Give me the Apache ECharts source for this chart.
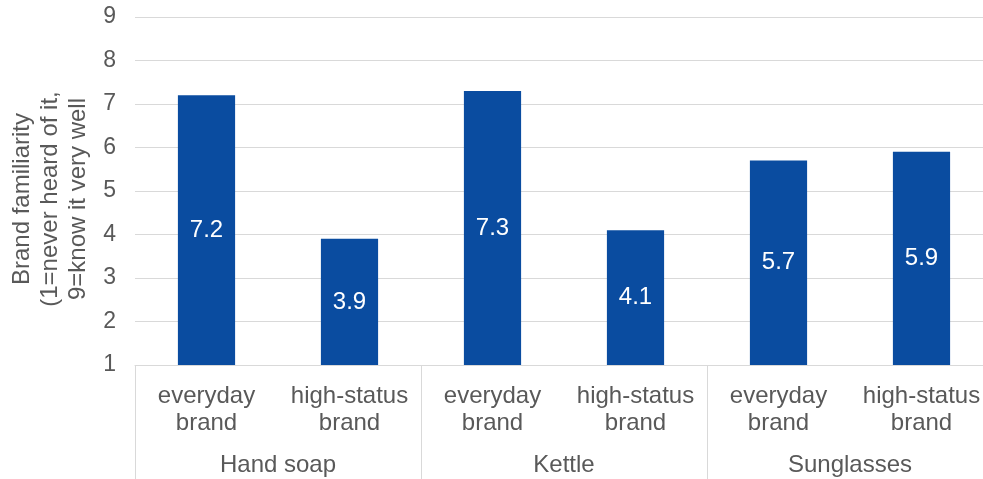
<!DOCTYPE html>
<html><head><meta charset="utf-8">
<script src="https://cdn.jsdelivr.net/npm/echarts@6/dist/echarts.min.js"></script>
<style>html,body{margin:0;padding:0;background:#fff;overflow:hidden}#c{width:1000px;height:479px}</style>
</head><body><div id="c"></div>
<script>
const groups = ['Hand soap', 'Kettle', 'Sunglasses'];
const brands = ['everyday\nbrand', 'high-status\nbrand', 'everyday\nbrand', 'high-status\nbrand', 'everyday\nbrand', 'high-status\nbrand'];
const values = [7.2, 3.9, 7.3, 4.1, 5.7, 5.9];
const yTicks = { min: 1, max: 9, interval: 1 };
const yTitle = 'Brand familiarity\n(1=never heard of it,\n9=know it very well';

const FONT = '"Liberation Sans", Arial, sans-serif';
const TXT = '#595959';
const LINE = '#d9d9d9';
const chart = echarts.init(document.getElementById('c'), null, { renderer: 'canvas' });
chart.setOption({
  animation: false,
  textStyle: { fontFamily: FONT },
  grid: { left: 135, top: 17, bottom: 114, width: 858, containLabel: false, outerBoundsMode: 'none' },
  xAxis: [
    {
      type: 'category', data: brands, position: 'bottom',
      axisLine: { show: true, lineStyle: { color: LINE, width: 1 } },
      axisTick: { show: false },
      axisLabel: { color: TXT, fontSize: 24, lineHeight: 27, margin: 18, interval: 0, fontFamily: FONT }
    },
    {
      type: 'category', data: groups, position: 'bottom', offset: 114,
      axisLine: { show: false },
      axisTick: { show: true, inside: true, length: 114, interval: 0, lineStyle: { color: LINE, width: 1 } },
      axisLabel: { color: TXT, fontSize: 24, margin: -26, interval: 0, fontFamily: FONT }
    }
  ],
  yAxis: {
    type: 'value', min: yTicks.min, max: yTicks.max, interval: yTicks.interval,
    name: yTitle, nameLocation: 'middle', nameGap: 42, nameRotate: 90,
    nameTextStyle: { color: TXT, fontSize: 24, lineHeight: 28, fontFamily: FONT, align: 'center', padding: [0, 16, 0, 0] },
    axisLine: { show: false }, axisTick: { show: false },
    axisLabel: { color: TXT, fontSize: 23, margin: 19, fontFamily: FONT },
    splitLine: { show: true, lineStyle: { color: LINE, width: 1 } }
  },
  series: [{
    type: 'bar', data: values, barWidth: '40%', xAxisIndex: 0,
    itemStyle: { color: '#0a4ca0' },
    label: { show: true, position: 'inside', color: '#fff', fontSize: 24, fontFamily: FONT }
  }]
});
</script></body></html>
